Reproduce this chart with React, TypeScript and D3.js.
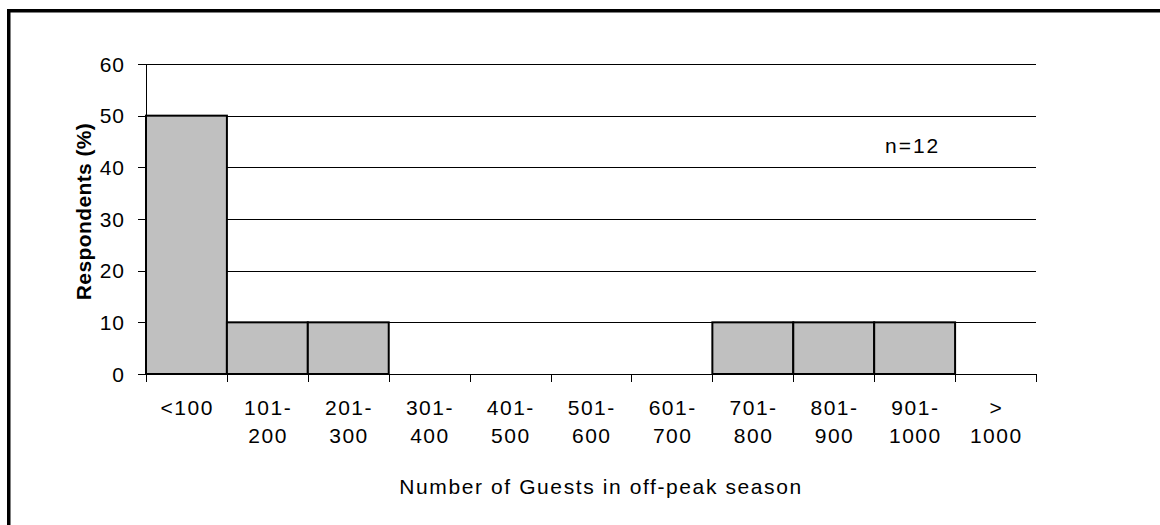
import React from "react";
import * as d3 from "d3";

const categories: string[] = ["<100", "101-200", "201-300", "301-400", "401-500", "501-600", "601-700", "701-800", "801-900", "901-1000", ">1000"];
const categoryLabels: string[][] = [["<100"], ["101-", "200"], ["201-", "300"], ["301-", "400"], ["401-", "500"], ["501-", "600"], ["601-", "700"], ["701-", "800"], ["801-", "900"], ["901-", "1000"], [">", "1000"]];
const values: number[] = [50, 10, 10, 0, 0, 0, 0, 10, 10, 10, 0];
const yTicks: number[] = [0, 10, 20, 30, 40, 50, 60];
const xTitle = "Number of Guests in off-peak season";
const yTitle = "Respondents (%)";
const note = "n=12";

const FONT = "'Liberation Sans', Arial, Helvetica, sans-serif";

export default function App() {
  const left = 146, right = 1036, top = 64, bottom = 374;
  const x = d3.scaleBand<string>().domain(categories).range([left, right]).padding(0);
  const y = d3.scaleLinear().domain([0, 60]).range([bottom, top]);
  const bw = x.bandwidth();
  const boundaries = categories.map((c) => x(c) as number).concat([right]);

  return (
    <svg width={1160} height={525} style={{ position: "absolute", left: 0, top: 0, background: "#fff" }} fontFamily={FONT}>
      <rect x={0} y={0} width={1160} height={525} fill="#fff" />
      <rect x={8.75} y={10.75} width={1300} height={700} fill="none" stroke="#000" strokeWidth={3.5} />
      {/* gridlines */}
      {yTicks.map((t) => (
        <line key={"g" + t} x1={left - 8} x2={right} y1={Math.round(y(t)) + 0.5} y2={Math.round(y(t)) + 0.5} stroke="#000" strokeWidth={1} />
      ))}
      {/* y axis */}
      <line x1={left + 0.5} x2={left + 0.5} y1={top} y2={bottom} stroke="#000" strokeWidth={1} />
      {/* x ticks */}
      {boundaries.map((b, i) => (
        <line key={"xt" + i} x1={Math.round(b) + 0.5} x2={Math.round(b) + 0.5} y1={bottom} y2={bottom + 8} stroke="#000" strokeWidth={1} />
      ))}
      {/* bars */}
      {categories.map((c, i) =>
        values[i] > 0 ? (
          <rect key={"b" + c} x={(x(c) as number)} y={y(values[i])} width={bw} height={bottom - y(values[i])} fill="#c0c0c0" stroke="#000" strokeWidth={2} />
        ) : null
      )}
      {/* y tick labels */}
      {yTicks.map((t) => (
        <text key={"yl" + t} x={125} y={y(t) + 7.5} textAnchor="end" fontSize={21} letterSpacing={1}>
          {t}
        </text>
      ))}
      {/* x tick labels */}
      {categories.map((c, i) => (
        <text key={"xl" + c} textAnchor="middle" fontSize={21} letterSpacing={1.5}>
          {categoryLabels[i].map((ln, j) => (
            <tspan key={j} x={(x(c) as number) + bw / 2 + 0.75} y={415 + j * 28}>
              {ln}
            </tspan>
          ))}
        </text>
      ))}
      {/* axis titles */}
      <text x={601} y={494} textAnchor="middle" fontSize={21} letterSpacing={1.6}>
        {xTitle}
      </text>
      <text transform="translate(91,211.5) rotate(-90)" textAnchor="middle" fontSize={21} fontWeight="bold" letterSpacing={0.4}>
        {yTitle}
      </text>
      <text x={885} y={153} fontSize={21} letterSpacing={2}>
        {note}
      </text>
    </svg>
  );
}
